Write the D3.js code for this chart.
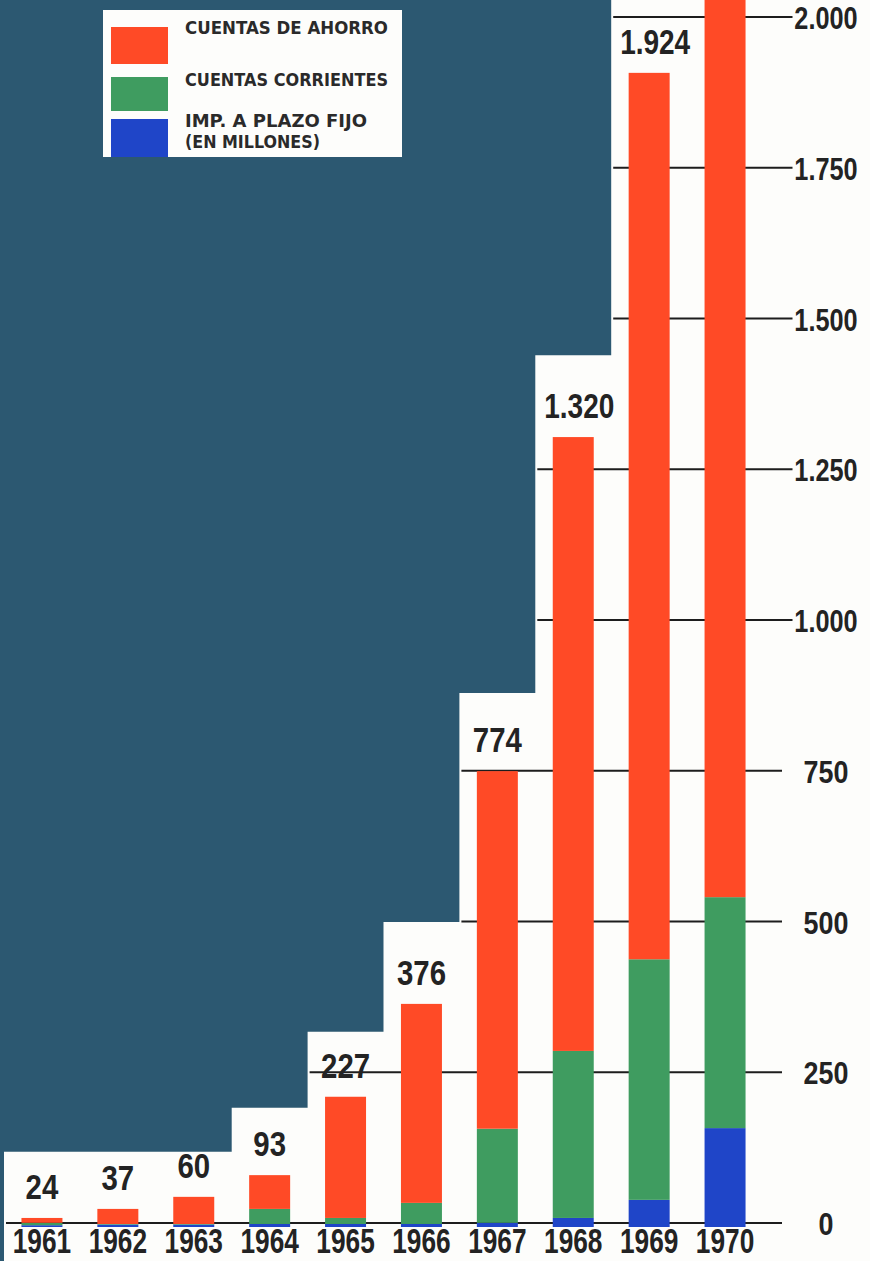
<!DOCTYPE html>
<html>
<head>
<meta charset="utf-8">
<script src="https://cdn.jsdelivr.net/npm/d3@7/dist/d3.min.js"></script>
<style>
  html, body { margin: 0; padding: 0; background: #2c5871; }
  svg { display: block; }
  .num { font-family: "Liberation Sans", Arial, sans-serif; font-weight: bold; fill: #232323; }
  .leg { font-family: "DejaVu Sans", "Open Sans", sans-serif; font-weight: bold; fill: #2a2a2a; }
</style>
</head>
<body>
<svg id="chart" width="870" height="1261"></svg>
<script>
// ---- data ----
const years = ["1961","1962","1963","1964","1965","1966","1967","1968","1969","1970"];
const cuentasAhorro     = [8, 25, 45, 56, 201, 330, 593, 1018, 1470, 1603];
const cuentasCorrientes = [4, 1, 1, 25, 10, 35, 156, 277, 399, 383];
const plazoFijo         = [3, 4, 4, 5, 5, 5, 7, 15, 45, 164];
const totalLabels = ["24","37","60","93","227","376","774","1.320","1.924",""];
const tickValues = [0, 250, 500, 750, 1000, 1250, 1500, 1750, 2000];
const tickLabels = ["0","250","500","750","1.000","1.250","1.500","1.750","2.000"];
// height of the white stepped backdrop behind each year (in axis units)
const panelTops = [118, 118, 118, 191, 317, 499, 879, 1439, 2100, 2100];
const seriesNames = ["IMP. A PLAZO FIJO", "CUENTAS CORRIENTES", "CUENTAS DE AHORRO"];
const seriesColors = ["#1f45c8", "#3f9c60", "#ff4a26"];

// ---- setup ----
const W = 870, H = 1261;
const svg = d3.select("#chart");

const x = d3.scaleBand().domain(years).range([4, 763]).paddingInner(0.46).paddingOuter(0.23);
const y = d3.scaleLinear().domain([0, 2000]).range([1223, 17]);
const gap = x.step() - x.bandwidth();

// condensed bold numerals: text drawn at origin, then squeezed horizontally
function condensed(g, cx, cy, txt, size, sx) {
  return g.append("text").attr("class", "num")
    .attr("transform", `translate(${cx},${cy}) scale(${sx},1)`)
    .attr("text-anchor", "middle")
    .attr("font-size", size)
    .text(txt);
}

// background
svg.append("rect").attr("width", W).attr("height", H).attr("fill", "#2c5871");

// white stepped panel
const p = d3.path();
const left = i => x(years[i]) - gap / 2;
p.moveTo(left(0), H);
years.forEach((yr, i) => {
  const xr = i === years.length - 1 ? W : left(i + 1);
  const top = Math.max(0, y(panelTops[i]));
  p.lineTo(left(i), top);
  p.lineTo(xr, top);
});
p.lineTo(W, H);
p.closePath();
svg.append("path").attr("d", p.toString()).attr("fill", "#fdfdfb");

// tick lines + axis labels
const axisG = svg.append("g");
const lineG = axisG.append("g");
tickValues.forEach((v, k) => {
  const idx = panelTops.findIndex(t => t > v);
  const x0 = left(idx) + 2;
  const lbl = tickLabels[k];
  const long = lbl.length > 3;
  condensed(axisG, 826, y(v) + 12, lbl, 32, long ? 0.79 : 0.84);
  const x1 = long ? 826 - 63 / 2 - 2 : 782;
  lineG.append("line")
    .attr("x1", x0).attr("x2", x1)
    .attr("y1", y(v)).attr("y2", y(v))
    .attr("stroke", "#1d1d1d").attr("stroke-width", 2);
});

// stacked bars
const rows = years.map((yr, i) => ({ year: yr, plazo: plazoFijo[i], corr: cuentasCorrientes[i], ahorro: cuentasAhorro[i] }));
const stack = d3.stack().keys(["plazo", "corr", "ahorro"]);
const layers = stack(rows);
const barsG = svg.append("g").attr("transform", "translate(0,4)");
barsG.selectAll("g").data(layers).join("g")
  .attr("fill", (d, i) => seriesColors[i])
  .selectAll("rect").data(d => d).join("rect")
  .attr("x", d => x(d.data.year))
  .attr("width", x.bandwidth())
  .attr("y", d => y(d[1]))
  .attr("height", d => Math.max(0, y(d[0]) - y(d[1])));

// value labels
const tops = layers[layers.length - 1];
const valG = svg.append("g");
years.forEach((yr, i) => {
  if (!totalLabels[i]) return;
  const lbl = totalLabels[i];
  condensed(valG, x(yr) + x.bandwidth() / 2 + (lbl.length > 3 ? 6 : 0), y(tops[i][1]) + 4 - 19, lbl, 35, lbl.length > 3 ? 0.8 : 0.84);
});

// year labels
const yearG = svg.append("g");
years.forEach(yr => condensed(yearG, x(yr) + x.bandwidth() / 2, 1253, yr, 35, 0.75));

// legend
const leg = svg.append("g");
leg.append("rect").attr("x", 103).attr("y", 10).attr("width", 299).attr("height", 147).attr("fill", "#fdfdfb");
const swatches = [
  { c: seriesColors[2], y0: 27, h: 37 },
  { c: seriesColors[1], y0: 77, h: 34 },
  { c: seriesColors[0], y0: 119, h: 38 }
];
swatches.forEach(s => leg.append("rect").attr("x", 111).attr("y", s.y0).attr("width", 57).attr("height", s.h).attr("fill", s.c));
const legTexts = [
  { t: seriesNames[2], y: 34, len: 203 },
  { t: seriesNames[1], y: 86, len: 203 },
  { t: seriesNames[0], y: 127, len: 182 },
  { t: "(EN MILLONES)", y: 148, len: 135 }
];
legTexts.forEach(l => leg.append("text").attr("class", "leg")
  .attr("x", 185).attr("y", l.y).attr("font-size", 18)
  .attr("textLength", l.len).attr("lengthAdjust", "spacingAndGlyphs")
  .text(l.t));
</script>
</body>
</html>
